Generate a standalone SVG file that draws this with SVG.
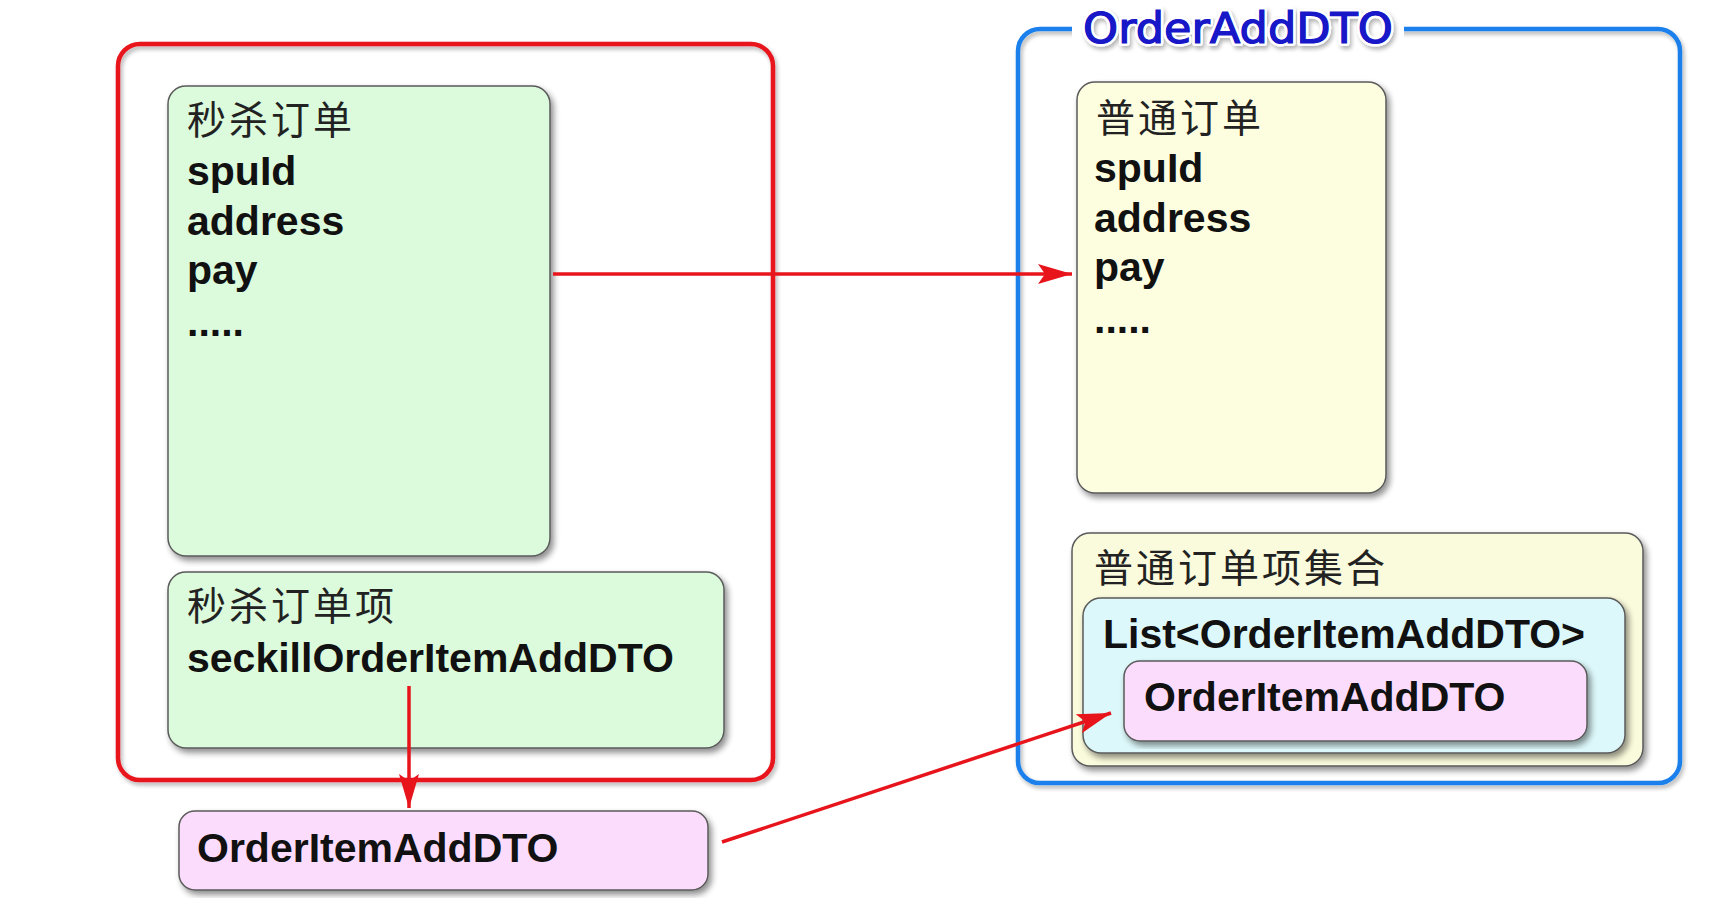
<svg xmlns="http://www.w3.org/2000/svg" width="1728" height="912" viewBox="0 0 1728 912">
<style>
.box{stroke:#5a5a5a;stroke-width:1.5;filter:url(#sh)}
.en{font-family:"Liberation Sans",Arial,sans-serif;font-weight:bold;font-size:41px;fill:#111}
.zh{font-family:"Noto Sans CJK SC",sans-serif;font-size:39px;fill:#222;letter-spacing:3px}
.arr{stroke:#e8141c;stroke-width:3.5;fill:none;marker-end:url(#ah)}
</style>
<defs>
<filter id="sh" x="-10%" y="-10%" width="120%" height="120%">
<feGaussianBlur in="SourceAlpha" stdDeviation="3"/>
<feOffset dx="3" dy="4" result="b"/>
<feComponentTransfer><feFuncA type="linear" slope="0.45"/></feComponentTransfer>
<feMerge><feMergeNode/><feMergeNode in="SourceGraphic"/></feMerge>
</filter>
<filter id="sh2" x="-5%" y="-5%" width="110%" height="110%">
<feGaussianBlur in="SourceAlpha" stdDeviation="2"/>
<feOffset dx="2" dy="3" result="b"/>
<feComponentTransfer><feFuncA type="linear" slope="0.3"/></feComponentTransfer>
<feMerge><feMergeNode/><feMergeNode in="SourceGraphic"/></feMerge>
</filter>
<marker id="ah" viewBox="0 0 34 20" refX="34" refY="10" markerWidth="34" markerHeight="20" markerUnits="userSpaceOnUse" orient="auto">
<path d="M0,0 L34,10 L0,20 L7,10 Z" fill="#e8141c"/>
</marker>
</defs>
<rect width="1728" height="912" fill="#ffffff"/>

<g id="seckill-container">
<rect x="118" y="44" width="655" height="736" rx="22" fill="none" stroke="#e8141c" stroke-width="4.5" filter="url(#sh2)"/>
</g>

<g id="seckill-order">
<rect class="box" x="168" y="86" width="382" height="470" rx="18" fill="#dcfadc"/>
<text class="zh" x="187" y="134">秒杀订单</text>
<text class="en" x="187" y="185">spuId</text>
<text class="en" x="187" y="235">address</text>
<text class="en" x="187" y="284">pay</text>
<text class="en" x="187" y="336">.....</text>
</g>

<g id="seckill-item">
<rect class="box" x="168" y="572" width="556" height="176" rx="18" fill="#dcfadc"/>
<text class="zh" x="187" y="620">秒杀订单项</text>
<text class="en" x="187" y="672">seckillOrderItemAddDTO</text>
</g>

<g id="order-item-bottom">
<rect class="box" x="179" y="811" width="529" height="79" rx="16" fill="#fcdcfc"/>
<text class="en" x="197" y="862">OrderItemAddDTO</text>
</g>

<g id="order-add-dto">
<rect x="1018" y="29" width="662" height="754" rx="22" fill="none" stroke="#1a80ec" stroke-width="4.5" filter="url(#sh2)"/>
<rect x="1072" y="6" width="332" height="46" fill="#ffffff"/>
<text x="1083" y="43" font-family="DejaVu Sans,sans-serif" font-size="42" textLength="310" lengthAdjust="spacingAndGlyphs" fill="#1818c8" stroke="#ffffff" stroke-width="6" stroke-linejoin="round" paint-order="stroke" filter="url(#sh2)">OrderAddDTO</text>
<text x="1083" y="43" font-family="DejaVu Sans,sans-serif" font-size="42" textLength="310" lengthAdjust="spacingAndGlyphs" fill="#1818c8" stroke="#1818c8" stroke-width="1.2">OrderAddDTO</text>
</g>

<g id="normal-order">
<rect class="box" x="1077" y="82" width="309" height="411" rx="18" fill="#fdfde0"/>
<text class="zh" x="1096" y="132">普通订单</text>
<text class="en" x="1094" y="182">spuId</text>
<text class="en" x="1094" y="232">address</text>
<text class="en" x="1094" y="281">pay</text>
<text class="en" x="1094" y="333">.....</text>
</g>

<g id="normal-item-set">
<rect class="box" x="1072" y="533" width="571" height="233" rx="18" fill="#fafadc"/>
<text class="zh" x="1094" y="582">普通订单项集合</text>
</g>

<g id="list">
<rect class="box" x="1083" y="598" width="542" height="155" rx="18" fill="#dcf8fa"/>
<text class="en" x="1103" y="648" textLength="482" lengthAdjust="spacingAndGlyphs">List&lt;OrderItemAddDTO&gt;</text>
</g>

<g id="order-item-inner">
<rect class="box" x="1124" y="661" width="463" height="80" rx="16" fill="#fcdcfc"/>
<text class="en" x="1144" y="711">OrderItemAddDTO</text>
</g>

<g id="connectors">
<line class="arr" x1="553" y1="274" x2="1072" y2="274"/>
<line class="arr" x1="409" y1="686" x2="409" y2="808"/>
<line class="arr" x1="722" y1="842" x2="1111" y2="713"/>
</g>
</svg>
